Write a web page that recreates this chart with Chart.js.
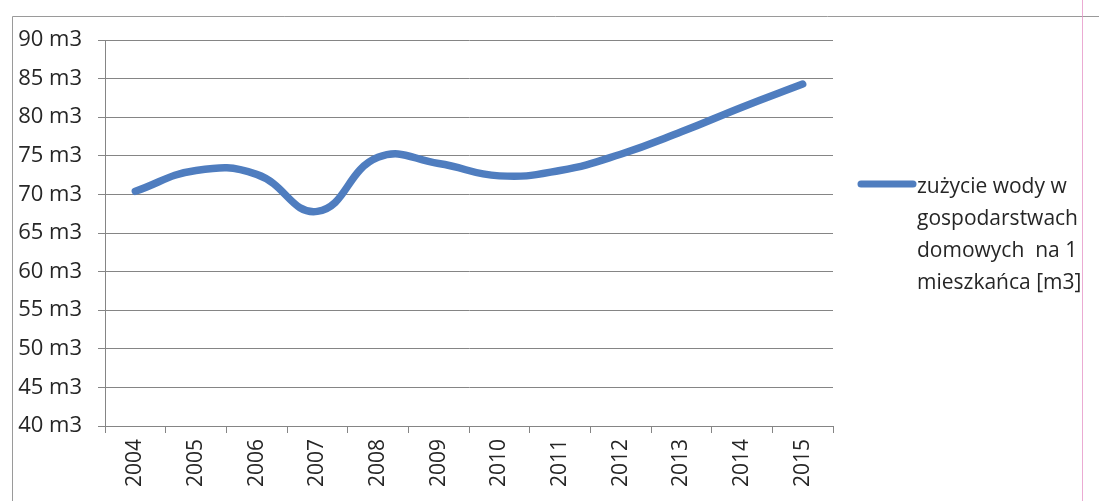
<!DOCTYPE html>
<html>
<head>
<meta charset="utf-8">
<script src="https://cdn.jsdelivr.net/npm/chart.js@4"></script>
<style>
  html, body { margin: 0; padding: 0; background: #fff; }
  #wrap { width: 1099px; height: 501px; }
</style>
</head>
<body>
<div id="wrap"><canvas id="chart" width="1099" height="501"></canvas></div>
<script>
var years = ['2004', '2005', '2006', '2007', '2008', '2009', '2010', '2011', '2012', '2013', '2014', '2015'];
var usage = [70.4, 73.1, 72.6, 67.8, 74.8, 74.0, 72.4, 73.1, 75.2, 78.1, 81.3, 84.3];
var seriesName = 'zużycie wody w gospodarstwach domowych  na 1 mieszkańca [m3]';
var legendLines = ['zużycie wody w', 'gospodarstwach', 'domowych  na 1', 'mieszkańca [m3]'];

var lineBlue = '#4f7dbf';
var gridGray = '#858585';
var textColor = '#262626';
var fontFamily = '"Open Sans", "Liberation Sans", sans-serif';

// frame round the whole chart + legend drawn by hand so it can wrap
var decor = {
  id: 'decor',
  beforeDraw: function(chart) {
    var ctx = chart.ctx;
    ctx.save();
    ctx.strokeStyle = '#9a9a9a';
    ctx.lineWidth = 1;
    ctx.beginPath();
    ctx.moveTo(12.5, 501);
    ctx.lineTo(12.5, 16.5);
    ctx.lineTo(1099, 16.5);
    ctx.stroke();
    ctx.strokeStyle = 'rgba(230,150,200,0.8)';
    ctx.beginPath();
    ctx.moveTo(1082.5, 0);
    ctx.lineTo(1082.5, 501);
    ctx.stroke();
    ctx.restore();
  },
  afterDraw: function(chart) {
    var ctx = chart.ctx;
    ctx.save();
    ctx.strokeStyle = lineBlue;
    ctx.lineWidth = 7;
    ctx.lineCap = 'round';
    ctx.beginPath();
    ctx.moveTo(861, 184);
    ctx.lineTo(913, 184);
    ctx.stroke();
    ctx.fillStyle = textColor;
    ctx.font = '21px ' + fontFamily;
    ctx.textBaseline = 'middle';
    ctx.textAlign = 'left';
    legendLines.forEach(function(t, i) {
      ctx.fillText(t, 917, 187 + i * 32);
    });
    ctx.restore();
  }
};

var ctx = document.getElementById('chart').getContext('2d');
var chart = new Chart(ctx, {
  type: 'line',
  data: {
    labels: years,
    datasets: [{
      label: seriesName,
      data: usage,
      borderColor: lineBlue,
      borderWidth: 7.5,
      borderCapStyle: 'round',
      pointRadius: 0,
      tension: 0.45,
      fill: false
    }]
  },
  options: {
    responsive: false,
    animation: false,
    devicePixelRatio: 1,
    layout: {
      padding: { left: 12, right: 266, top: 40, bottom: 0 }
    },
    plugins: {
      legend: { display: false },
      tooltip: { enabled: false }
    },
    scales: {
      x: {
        offset: true,
        grid: {
          display: true,
          offset: true,
          drawOnChartArea: false,
          color: gridGray,
          tickLength: 7
        },
        border: { color: gridGray, width: 1 },
        ticks: {
          maxRotation: 90,
          minRotation: 90,
          padding: 6,
          color: textColor,
          font: { family: fontFamily, size: 21 }
        },
        afterFit: function(s) { s.height = 75; }
      },
      y: {
        min: 40,
        max: 90,
        ticks: {
          stepSize: 5,
          padding: 16,
          color: textColor,
          font: { family: fontFamily, size: 22 },
          callback: function(v) { return v + ' m3'; }
        },
        grid: {
          color: gridGray,
          lineWidth: 1,
          tickLength: 7
        },
        border: { color: gridGray, width: 1 },
        afterFit: function(s) { s.width = 93; }
      }
    }
  },
  plugins: [decor]
});
</script>
</body>
</html>
